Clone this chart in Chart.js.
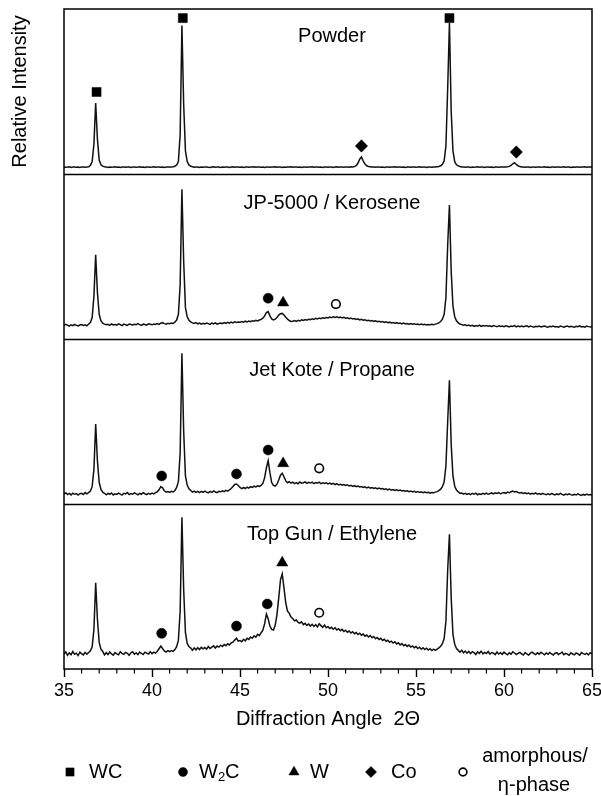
<!DOCTYPE html>
<html>
<head>
<meta charset="utf-8">
<script src="https://cdn.jsdelivr.net/npm/chart.js@4.4.1/dist/chart.umd.min.js"></script>
<style>
  html, body { margin: 0; padding: 0; background: #fff; }
  #wrap { width: 601px; height: 796px; }
</style>
</head>
<body>
<div id="wrap"><canvas id="xrd" width="601" height="796"></canvas></div>
<script>
// sampling grid of the scans (deg 2-theta)
const angleStart = 35;
const angleStep = 0.1;

// intensities, 0 = bottom of the panel, 100 = top of the panel (one row per degree)
const powder = [
  4.3, 4.1, 4.2, 4.4, 4.0, 4.2, 4.3, 4.1, 4.2, 4.0,
  4.2, 4.3, 4.1, 4.3, 4.4, 5.2, 7.5, 18, 43, 21,
  8.5, 5.6, 4.8, 4.4, 4.2, 4.0, 4.3, 4.1, 4.2, 4.4,
  4.1, 4.2, 4.0, 4.3, 4.2, 4.1, 4.3, 4.2, 4.0, 4.2,
  4.3, 4.1, 4.2, 4.4, 4.1, 4.2, 4.0, 4.3, 4.2, 4.1,
  4.2, 4.4, 4.1, 4.2, 4.3, 4.1, 4.2, 4.0, 4.3, 4.2,
  4.3, 4.2, 4.4, 4.7, 5.4, 7.5, 24, 90, 42, 14,
  7.5, 5.5, 4.7, 4.4, 4.1, 4.2, 4.3, 4.0, 4.2, 4.1,
  4.2, 4.3, 4.1, 4.0, 4.2, 4.4, 4.1, 4.2, 4.3, 4.0,
  4.2, 4.1, 4.3, 4.2, 4.0, 4.2, 4.4, 4.1, 4.2, 4.3,
  4.1, 4.2, 4.0, 4.3, 4.2, 4.1, 4.3, 4.2, 4.4, 4.1,
  4.2, 4.3, 4.1, 4.2, 4.0, 4.3, 4.2, 4.1, 4.3, 4.2,
  4.4, 4.1, 4.2, 4.3, 4.0, 4.2, 4.1, 4.3, 4.2, 4.4,
  4.1, 4.2, 4.3, 4.1, 4.2, 4.0, 4.3, 4.2, 4.1, 4.3,
  4.2, 4.4, 4.1, 4.2, 4.3, 4.1, 4.2, 4.0, 4.2, 4.3,
  4.1, 4.2, 4.3, 4.0, 4.2, 4.4, 4.1, 4.3, 4.2, 4.1,
  4.2, 4.3, 4.1, 4.4, 4.3, 4.5, 5.0, 6.5, 9.0, 10.3,
  8.0, 6.0, 5.0, 4.6, 4.4, 4.2, 4.3, 4.1, 4.2, 4.3,
  4.1, 4.2, 4.0, 4.3, 4.2, 4.1, 4.3, 4.2, 4.4, 4.1,
  4.2, 4.3, 4.1, 4.2, 4.0, 4.3, 4.2, 4.1, 4.3, 4.2,
  4.1, 4.2, 4.4, 4.1, 4.3, 4.2, 4.0, 4.2, 4.3, 4.1,
  4.3, 4.2, 4.4, 4.6, 5.0, 5.8, 8.0, 17, 52, 91.5,
  38, 14, 7.5, 5.6, 4.9, 4.5, 4.3, 4.2, 4.1, 4.3,
  4.2, 4.0, 4.3, 4.1, 4.2, 4.4, 4.1, 4.2, 4.3, 4.0,
  4.2, 4.3, 4.1, 4.2, 4.0, 4.3, 4.2, 4.1, 4.3, 4.2,
  4.2, 4.3, 4.4, 4.6, 5.2, 6.2, 6.8, 5.8, 5.0, 4.5,
  4.3, 4.2, 4.1, 4.3, 4.2, 4.0, 4.2, 4.3, 4.1, 4.2,
  4.3, 4.1, 4.2, 4.4, 4.1, 4.2, 4.0, 4.3, 4.2, 4.1,
  4.2, 4.3, 4.1, 4.2, 4.4, 4.1, 4.3, 4.2, 4.0, 4.2,
  4.1, 4.3, 4.2, 4.1, 4.3, 4.2, 4.4, 4.1, 4.2, 4.3,
  4.2
];

const jp5000 = [
  8.2, 8.9, 8.4, 7.8, 8.6, 8.1, 8.8, 8.3, 7.9, 8.5,
  8.7, 8.2, 8.6, 8.0, 9.1, 10.0, 13, 26, 51, 28,
  15, 11, 9.6, 9.0, 8.6, 8.9, 8.3, 9.1, 8.5, 8.8,
  8.4, 9.2, 8.7, 8.1, 9.0, 8.6, 8.3, 9.1, 8.8, 8.5,
  8.9, 8.6, 9.3, 8.7, 8.2, 9.0, 8.8, 8.4, 9.2, 8.9,
  8.6, 9.1, 8.8, 9.4, 8.9, 9.6, 9.9, 9.3, 9.0, 9.5,
  9.2, 9.7, 9.4, 10.2, 11.5, 15, 33, 90.7, 47, 19,
  13.5, 11.4, 10.4, 9.8, 9.4, 9.9, 9.2, 9.6, 9.0, 9.5,
  9.1, 9.7, 9.3, 8.9, 9.6, 9.2, 9.8, 9.0, 9.4, 9.7,
  9.3, 9.9, 9.5, 10.1, 9.6, 10.2, 9.8, 10.4, 10.0, 10.3,
  10.1, 10.6, 10.2, 10.8, 10.4, 10.9, 10.5, 11.1, 10.8, 11.3,
  11.0, 11.5, 11.9, 12.6, 14.0, 16.0, 16.6, 14.0, 12.2, 11.6,
  12.0, 13.0, 14.5, 15.3, 15.5, 14.6, 13.2, 12.0, 11.2, 10.6,
  10.8, 11.2, 10.7, 11.3, 11.0, 11.6, 11.2, 11.8, 11.4, 12.0,
  11.7, 12.2, 11.9, 12.5, 12.1, 12.7, 12.3, 12.9, 12.6, 13.0,
  12.8, 13.3, 12.9, 13.5, 13.1, 13.4, 12.9, 13.3, 12.7, 13.1,
  12.6, 12.9, 12.3, 12.7, 12.1, 12.4, 11.9, 12.2, 11.6, 11.9,
  11.4, 11.7, 11.1, 11.4, 10.9, 11.2, 10.7, 11.0, 10.5, 10.8,
  10.3, 10.6, 10.1, 10.4, 9.9, 10.2, 9.7, 10.0, 9.6, 9.9,
  9.4, 9.7, 9.2, 9.6, 9.1, 9.4, 9.0, 9.3, 8.9, 9.2,
  8.8, 9.1, 8.7, 9.0, 8.6, 8.9, 8.5, 8.8, 8.6, 8.9,
  8.7, 9.0, 9.3, 9.8, 10.6, 12.0, 15, 25, 57, 81.2,
  41, 20, 13.5, 11, 9.8, 9.1, 8.7, 8.3, 8.6, 8.1,
  8.4, 7.9, 8.3, 7.7, 8.2, 7.8, 8.4, 7.6, 8.1, 7.9,
  8.2, 7.7, 8.0, 7.5, 8.1, 7.8, 7.4, 8.0, 7.6, 7.9,
  7.5, 8.0, 7.7, 7.3, 7.9, 7.6, 8.1, 7.4, 7.8, 7.5,
  7.9, 7.4, 7.7, 8.0, 7.3, 7.8, 7.5, 7.2, 7.7, 7.4,
  7.8, 7.3, 7.6, 7.9, 7.4, 7.1, 7.7, 7.5, 7.9, 7.3,
  7.6, 7.2, 7.8, 7.5, 7.1, 7.6, 7.9, 7.3, 7.7, 7.4,
  7.2, 7.7, 7.4, 7.9, 7.3, 7.6, 7.2, 7.8, 7.5, 7.3,
  7.6
];

const jetKote = [
  6.0, 6.8, 5.7, 6.4, 5.5, 6.6, 5.9, 6.3, 5.4, 6.2,
  6.5, 5.8, 6.9, 6.1, 6.9, 7.8, 10.5, 21, 48.5, 26,
  13, 8.8, 7.2, 6.5, 5.6, 6.4, 5.9, 6.7, 5.5, 6.2,
  5.8, 6.6, 6.0, 5.4, 6.5, 6.1, 6.9, 5.7, 6.3, 5.9,
  6.7, 6.1, 5.6, 6.4, 5.9, 6.8, 6.2, 5.7, 6.5, 6.0,
  6.6, 6.1, 6.9, 7.4, 8.6, 10.5, 9.8, 8.0, 7.2, 7.6,
  7.0, 7.7, 7.3, 8.2, 10, 13.5, 31, 91.3, 44, 17,
  11.5, 9.2, 8.2, 7.2, 7.8, 7.0, 7.6, 6.9, 7.7, 7.1,
  7.8, 7.2, 6.8, 7.6, 7.0, 7.9, 7.3, 6.9, 7.7, 7.4,
  8.0, 7.5, 8.3, 7.8, 8.6, 9.4, 10.6, 11.8, 12.1, 11.2,
  10.0, 9.3, 10.0, 9.4, 10.2, 9.6, 10.5, 10.1, 10.8, 10.4,
  11.0, 10.7, 11.3, 12.5, 16, 22, 26.3, 19, 13, 11.3,
  10.9, 12.0, 14.5, 17.5, 18.6, 16.5, 14.0, 12.9, 13.5, 12.6,
  13.2, 12.4, 13.0, 12.2, 13.3, 12.6, 12.9, 13.4, 12.5, 13.1,
  12.7, 13.3, 12.4, 13.0, 12.6, 13.2, 12.3, 12.9, 12.5, 12.8,
  12.2, 12.7, 12.0, 12.5, 11.8, 12.3, 11.6, 12.0, 11.4, 11.8,
  11.2, 11.6, 10.9, 11.3, 10.7, 11.1, 10.5, 10.9, 10.3, 10.6,
  10.1, 10.4, 9.8, 10.2, 9.6, 10.0, 9.4, 9.8, 9.2, 9.6,
  9.1, 9.4, 8.8, 9.2, 8.6, 9.0, 8.4, 8.8, 8.2, 8.6,
  8.1, 8.4, 7.9, 8.2, 7.7, 8.0, 7.5, 7.9, 7.3, 7.7,
  7.2, 7.6, 7.0, 7.4, 6.9, 7.3, 6.8, 7.1, 6.6, 7.0,
  6.8, 7.2, 7.5, 8.1, 9.0, 10.5, 13.5, 23, 50, 75,
  36, 17, 10.8, 8.4, 7.3, 6.5, 6.7, 6.0, 6.5, 5.8,
  6.3, 5.7, 6.4, 5.9, 6.6, 5.6, 6.2, 5.8, 6.5, 6.0,
  6.6, 5.9, 6.3, 6.7, 6.1, 6.8, 6.4, 6.9, 6.2, 6.6,
  7.0, 6.5, 7.2, 6.8, 7.4, 7.8, 7.3, 7.6, 7.0, 6.7,
  6.9, 6.4, 6.8, 6.2, 6.6, 6.0, 6.5, 6.1, 6.7, 5.9,
  6.3, 5.8, 6.4, 6.0, 5.6, 6.2, 5.7, 6.3, 5.9, 5.5,
  6.1, 5.7, 6.4, 5.8, 5.4, 6.0, 5.6, 6.2, 5.7, 5.3,
  5.9, 5.5, 6.1, 5.6, 5.2, 5.8, 5.4, 6.0, 5.5, 5.7,
  5.4
];

const topGun = [
  9.0, 10.4, 8.3, 9.8, 8.7, 10.6, 8.9, 9.6, 8.1, 10.2,
  9.3, 8.5, 10.1, 9.0, 10.0, 11.0, 13.5, 24, 52.3, 30,
  16, 12, 10.6, 8.6, 9.9, 8.8, 10.3, 9.1, 8.4, 10.0,
  9.2, 8.6, 10.5, 9.4, 8.9, 10.1, 9.5, 8.3, 9.8, 10.4,
  9.0, 9.7, 8.7, 10.3, 9.4, 8.8, 10.2, 9.6, 9.1, 10.5,
  9.3, 10.2, 9.6, 10.8, 12.3, 13.9, 12.4, 11.0, 10.3, 11.1,
  10.5, 11.2, 10.7, 11.8, 13.5, 17.5, 35, 91.9, 48, 22,
  15.5, 13.6, 12.7, 11.4, 12.8, 11.6, 12.9, 11.8, 13.1, 12.2,
  13.0, 12.0, 13.6, 12.4, 13.2, 14.0, 12.7, 13.9, 13.3, 14.4,
  13.6, 14.8, 14.1, 15.3, 14.6, 15.8, 16.3, 17.5, 18.6, 16.9,
  17.2, 16.5, 18.0, 17.1, 18.6, 17.9, 19.4, 18.6, 20.1, 19.3,
  21.0, 20.2, 22.0, 23.5, 27.5, 33.3, 30.5, 26.0, 24.0, 23.6,
  26.5, 33, 43, 54, 57.6, 49, 40, 35, 33.7, 31.5,
  30.5, 29.2, 29.7, 28.3, 27.8, 28.6, 26.9, 27.7, 26.4, 27.3,
  26.0, 27.1, 25.8, 26.9, 25.5, 27.4, 26.3, 25.2, 26.6, 25.0,
  25.8, 24.6, 25.3, 24.1, 25.0, 23.7, 24.4, 23.2, 24.0, 22.7,
  23.5, 22.3, 23.0, 21.8, 22.6, 21.4, 22.1, 20.9, 21.7, 20.5,
  21.2, 19.9, 20.6, 19.4, 20.3, 18.9, 19.7, 18.4, 19.1, 17.9,
  18.6, 17.3, 18.0, 16.8, 17.4, 16.2, 16.9, 15.7, 16.5, 15.2,
  15.9, 14.6, 15.4, 14.1, 14.8, 13.7, 14.5, 13.3, 14.0, 12.9,
  13.6, 12.4, 13.2, 12.0, 12.9, 11.8, 12.6, 11.5, 12.3, 11.2,
  12.0, 11.3, 12.1, 12.8, 13.8, 15.3, 18.5, 29, 60, 81.6,
  43, 21, 15, 12.4, 11.3, 10.2, 11.4, 9.8, 10.9, 9.6,
  10.7, 9.3, 10.5, 9.9, 8.8, 10.4, 9.5, 10.8, 9.2, 10.1,
  9.4, 10.6, 9.0, 10.0, 9.6, 8.7, 10.3, 9.1, 9.9, 8.9,
  10.2, 9.3, 8.6, 9.8, 9.0, 10.4, 9.7, 8.8, 9.5, 10.1,
  9.2, 8.5, 9.9, 9.1, 8.4, 9.6, 10.2, 9.3, 8.7, 9.8,
  9.0, 10.1, 9.4, 8.6, 9.7, 8.9, 10.0, 9.2, 8.5, 9.6,
  9.9, 8.8, 9.4, 10.2, 8.7, 9.5, 9.0, 8.3, 9.8, 9.1,
  8.6, 9.7, 9.2, 8.4, 10.0, 9.3, 8.8, 9.6, 8.5, 9.9,
  9.2
];

// phase markers [angle, height] per panel
const powderWC = [[36.85, 49.7], [41.75, 94.5], [56.9, 94.5]];
const powderCo = [[51.9, 17], [60.7, 13.3]];
const jp5000W2C = [[46.6, 24.7]];
const jp5000W = [[47.45, 22]];
const jp5000Amorph = [[50.45, 21.2]];
const jetKoteW2C = [[40.55, 17], [44.8, 18.2], [46.6, 32.7]];
const jetKoteW = [[47.45, 24.6]];
const jetKoteAmorph = [[49.5, 21.6]];
const topGunW2C = [[40.55, 21.6], [44.8, 26], [46.55, 39.4]];
const topGunW = [[47.4, 64.4]];
const topGunAmorph = [[49.5, 34.1]];

const panelTitles = ["Powder", "JP-5000 / Kerosene", "Jet Kote / Propane", "Top Gun / Ethylene"];
const xTicks = [35, 40, 45, 50, 55, 60, 65];

const FONT = "'Liberation Sans', Arial, Helvetica, sans-serif";
Chart.defaults.font.family = FONT;
Chart.defaults.color = "#000";

const angles = powder.map((_, i) => Math.round((angleStart + i * angleStep) * 10) / 10);

const phaseStyles = {
  WC: { pointStyle: "rect", radius: 6.4, fill: "#000" },
  W2C: { pointStyle: "circle", radius: 5, fill: "#000" },
  W: { pointStyle: "triangle", radius: 6.5, fill: "#000" },
  Co: { pointStyle: "rectRot", radius: 6.2, fill: "#000" },
  amorph: { pointStyle: "circle", radius: 4.3, fill: "#fff" }
};

const panels = [
  { title: panelTitles[0], trace: powder, titleDy: 27, marks: [["WC", powderWC], ["Co", powderCo]] },
  { title: panelTitles[1], trace: jp5000, titleDy: 29, marks: [["W2C", jp5000W2C], ["W", jp5000W], ["amorph", jp5000Amorph]] },
  { title: panelTitles[2], trace: jetKote, titleDy: 31, marks: [["W2C", jetKoteW2C], ["W", jetKoteW], ["amorph", jetKoteAmorph]] },
  { title: panelTitles[3], trace: topGun, titleDy: 30, marks: [["W2C", topGunW2C], ["W", topGunW], ["amorph", topGunAmorph]] }
];

const datasets = [];
const scales = {
  x: {
    type: "linear", min: 35, max: 65,
    afterBuildTicks: (s) => { s.ticks = xTicks.map((v) => ({ value: v })); },
    afterFit: (s) => { s.height = 127; s.paddingLeft = 0; s.paddingRight = 0; },
    ticks: { autoSkip: false, maxRotation: 0, padding: 3, font: { size: 18 } },
    grid: { drawOnChartArea: false, tickLength: 8, tickColor: "#000", tickWidth: 1.4 },
    border: { display: false },
    title: { display: true, text: "Diffraction Angle  2\u0398", font: { size: 20 }, padding: { top: 0, bottom: 65 } }
  }
};

panels.forEach((p, k) => {
  const below = panels.length - 1 - k;
  scales["y" + k] = { type: "linear", display: false, min: -100 * below, max: 100 * (panels.length - below) };
  datasets.push({
    type: "line", data: p.trace, yAxisID: "y" + k, borderColor: "#111", borderWidth: 1.5,
    pointRadius: 0, fill: false, tension: 0
  });
  p.marks.forEach(([phase, pts]) => {
    const st = phaseStyles[phase];
    datasets.push({
      type: "scatter", data: pts.map(([x, y]) => ({ x, y })), yAxisID: "y" + k,
      pointStyle: st.pointStyle, pointRadius: st.radius, backgroundColor: st.fill,
      borderColor: "#000", borderWidth: phase === "amorph" ? 1.6 : 0.5
    });
  });
});

const minorTicks = [];
for (let v = 36; v < 65; v++) if (v % 5) minorTicks.push(v);

const legendItems = [
  { phase: "WC", mx: 70, tx: 89, text: "WC" },
  { phase: "W2C", mx: 183, tx: 199, text: "W2C" },
  { phase: "W", mx: 294, tx: 310, text: "W" },
  { phase: "Co", mx: 371, tx: 391, text: "Co" },
  { phase: "amorph", mx: 463, tx: 535, text: ["amorphous/", "\u03b7-phase"] }
];

const framePlugin = {
  id: "frame",
  afterDatasetsDraw(chart) {
    const { ctx, chartArea: a } = chart;
    const sc = chart.scales;
    ctx.save();
    ctx.strokeStyle = "#000";
    ctx.lineWidth = 1.5;
    ctx.strokeRect(a.left, a.top, a.right - a.left, a.bottom - a.top);
    panels.forEach((p, k) => {
      if (k === panels.length - 1) return;
      const y = Math.round(sc["y" + k].getPixelForValue(0)) + 0.5;
      ctx.beginPath(); ctx.moveTo(a.left, y); ctx.lineTo(a.right, y); ctx.stroke();
    });
    ctx.lineWidth = 1.2;
    minorTicks.forEach((v) => {
      const px = sc.x.getPixelForValue(v);
      ctx.beginPath(); ctx.moveTo(px, a.bottom); ctx.lineTo(px, a.bottom + 4.5); ctx.stroke();
    });

    ctx.fillStyle = "#000";
    ctx.font = "20px " + FONT;
    ctx.textAlign = "center";
    ctx.textBaseline = "middle";
    panels.forEach((p, k) => {
      const top = sc["y" + k].getPixelForValue(100);
      ctx.fillText(p.title, (a.left + a.right) / 2 + 4, top + p.titleDy);
    });

    ctx.save();
    ctx.translate(20, (a.top + sc.y0.getPixelForValue(0)) / 2);
    ctx.rotate(-Math.PI / 2);
    ctx.fillText("Relative Intensity", 0, 0);
    ctx.restore();

    // legend
    const ly = 772;
    legendItems.forEach((it) => {
      const st = phaseStyles[it.phase];
      ctx.fillStyle = st.fill;
      ctx.lineWidth = it.phase === "amorph" ? 1.6 : 0.5;
      Chart.helpers.drawPoint(ctx, { pointStyle: st.pointStyle, radius: st.radius * 0.9, rotation: 0, borderWidth: ctx.lineWidth }, it.mx, ly);
      ctx.fillStyle = "#000";
      ctx.font = "20px " + FONT;
      if (Array.isArray(it.text)) {
        ctx.textAlign = "center";
        ctx.fillText(it.text[0], it.tx, ly - 16);
        ctx.fillText(it.text[1], it.tx - 1, ly + 13);
      } else if (it.text === "W2C") {
        ctx.textAlign = "left";
        ctx.fillText("W", it.tx, ly);
        let x = it.tx + ctx.measureText("W").width;
        ctx.font = "13px " + FONT;
        ctx.fillText("2", x, ly + 5);
        x += ctx.measureText("2").width;
        ctx.font = "20px " + FONT;
        ctx.fillText("C", x, ly);
      } else {
        ctx.textAlign = "left";
        ctx.fillText(it.text, it.tx, ly);
      }
    });
    ctx.restore();
  }
};

new Chart(document.getElementById("xrd"), {
  type: "line",
  data: { labels: angles, datasets },
  options: {
    responsive: false,
    animation: false,
    layout: { padding: { left: 64, right: 9, top: 9, bottom: 0 } },
    plugins: { legend: { display: false }, tooltip: { enabled: false } },
    scales
  },
  plugins: [framePlugin]
});
</script>
</body>
</html>
